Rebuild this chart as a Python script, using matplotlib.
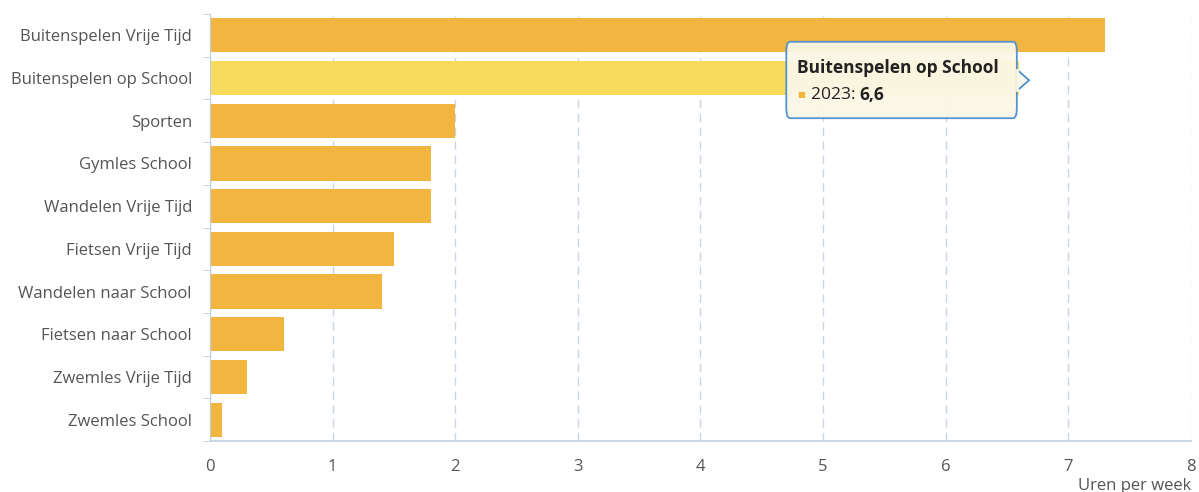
import matplotlib.pyplot as plt
from matplotlib.patches import FancyBboxPatch, Polygon
from matplotlib.transforms import offset_copy

# data
categories = ['Buitenspelen Vrije Tijd', 'Buitenspelen op School', 'Sporten',
              'Gymles School', 'Wandelen Vrije Tijd', 'Fietsen Vrije Tijd',
              'Wandelen naar School', 'Fietsen naar School', 'Zwemles Vrije Tijd',
              'Zwemles School']
hours = [7.3, 6.6, 2.0, 1.8, 1.8, 1.5, 1.4, 0.6, 0.3, 0.1]
highlight = 'Buitenspelen op School'
year = '2023'
x_ticks = [0, 1, 2, 3, 4, 5, 6, 7, 8]

plt.rcParams['font.family'] = ['Open Sans', 'DejaVu Sans']

fig = plt.figure(figsize=(11.99, 4.92), dpi=100)
ax = fig.add_axes([0.1751, 0.1037, 0.8182, 0.8678])

colors = ['#F8DB5B' if c == highlight else '#F2B53F' for c in categories]
y = list(range(len(categories)))
ax.barh(y, hours, height=0.8, color=colors, zorder=2)
ax.set_ylim(len(categories) - 0.5, -0.5)
ax.set_xlim(0, 8)

ax.set_yticks(y)
ax.set_yticklabels(categories, fontsize=12, color='#555555')
ax.set_xticks(x_ticks)
ax.set_xticklabels([str(t) for t in x_ticks], fontsize=12, color='#555555')
ax.tick_params(axis='y', length=0, pad=13)
ax.tick_params(axis='x', length=0, pad=13)

# small ticks at category boundaries on the y axis
ax.set_yticks([i + 0.5 for i in range(-1, len(categories))], minor=True)
ax.tick_params(axis='y', which='minor', length=5, color='#C0D0E0', direction='out')

ax.grid(axis='x', color='#C8D6E3', linestyle=(0, (6, 4)), linewidth=1, zorder=0)
for s in ['top', 'right']:
    ax.spines[s].set_visible(False)
ax.spines['left'].set_color('#C0D0E0')
ax.spines['bottom'].set_color('#C0D0E0')
ax.spines['bottom'].set_linewidth(1.2)

ax.text(1.0, -0.125, 'Uren per week', transform=ax.transAxes, ha='right', va='bottom',
        fontsize=12, color='#555555')

# tooltip
idx = categories.index(highlight)
val = hours[idx]
x0, x1 = val - 1.9, val - 0.02
y0, y1 = idx - 0.85, idx + 0.94
box = FancyBboxPatch((x0, y0), x1 - x0, y1 - y0, boxstyle='round,pad=0,rounding_size=0.03',
                     facecolor='#FBF7E6', edgecolor='#4A8FD0', linewidth=1.3, zorder=5,
                     mutation_aspect=8, alpha=0.95)
ax.add_patch(box)
arrow = Polygon([(x1, idx - 0.2), (x1 + 0.1, idx + 0.05), (x1, idx + 0.3)], closed=False,
                facecolor='#FBF7E6', edgecolor='#4A8FD0', linewidth=1.3, zorder=6)
ax.add_patch(arrow)
ax.plot([x1, x1], [idx - 0.18, idx + 0.28], color='#FBF7E6', linewidth=2, zorder=7)
ax.text(x0 + 0.09, idx - 0.23, highlight, fontsize=12.5, fontweight='bold', color='#222222',
        va='center', zorder=8)
ax.text(x0 + 0.09, idx + 0.4, '■', fontsize=6, color='#F2B53F', va='center', zorder=8)
t = ax.text(x0 + 0.2, idx + 0.4, year + ': ', fontsize=12.5, color='#222222', va='center',
            zorder=8)
fig.canvas.draw()
w = t.get_window_extent().width
ax.text(x0 + 0.2, idx + 0.4, str(val).replace('.', ','), fontsize=12.5, fontweight='bold',
        color='#222222', va='center', zorder=8,
        transform=offset_copy(ax.transData, fig=fig, x=w, y=0, units='dots'))

plt.savefig('out.png', dpi=100)
